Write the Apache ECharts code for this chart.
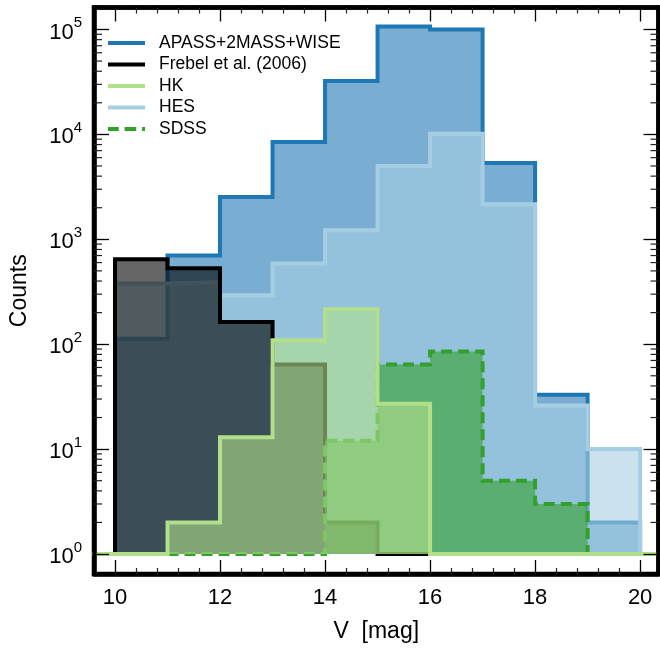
<!DOCTYPE html>
<html>
<head>
<meta charset="utf-8">
<script src="https://cdn.jsdelivr.net/npm/echarts@6/dist/echarts.min.js"></script>
<style>html,body{margin:0;padding:0;background:#fff}#c{width:660px;height:650px}</style>
</head>
<body>
<div id="c"></div>
<script>
// ---- data (counts per 1-mag bin) ----
const seriesNames = ['APASS+2MASS+WISE', 'Frebel et al. (2006)', 'HK', 'HES', 'SDSS'];
const apassStart = 10;
const apass = [113, 700, 2530, 8450, 32200, 106800, 100000, 5330, 33, 2];
const frebelStart = 10;
const frebel = [645, 530, 163, 64, 2, 1];
const hkStart = 10;
const hk = [0, 2, 13, 109, 215, 27, 0, 0, 0, 0];
const hesStart = 10;
const hes = [380, 390, 293, 587, 1220, 4990, 10150, 2155, 26, 10];
const sdssStart = 11;
const sdss = [0, 0, 0, 12, 64, 85, 5, 3];
const xTickLabels = [10, 12, 14, 16, 18, 20];

const X_MIN = 9.6, X_MAX = 20.35, Y_MIN = 0.645, Y_MAX = 162000, BASE = 1;
const FONT = 'Liberation Sans, Arial, sans-serif';

function stepPoints(start, vals, extendFrom, extendTo) {
  const pts = [];
  const s = extendFrom !== undefined ? extendFrom : start;
  pts.push([s, BASE]);
  vals.forEach((v, i) => pts.push([start + i, v > 0 ? v : BASE]));
  const end = start + vals.length;
  pts.push([extendTo !== undefined ? extendTo : end, BASE]);
  return pts;
}

function histSeries(name, color, pts, dashed, z) {
  return {
    name: name, type: 'line', step: 'end', data: pts, z: z,
    symbol: 'none', showSymbol: false, clip: true, silent: true,
    lineStyle: { color: color, width: 4, type: dashed ? [11, 6] : 'solid', join: 'miter', cap: 'butt' },
    itemStyle: { color: color },
    areaStyle: { color: color, opacity: 0.6, origin: BASE },
    emphasis: { disabled: true }
  };
}

// minor log ticks 2..9 x 10^k
const minorVals = [];
for (let k = 0; k <= 4; k++) for (let m = 2; m <= 9; m++) minorVals.push(m * Math.pow(10, k));

const chart = echarts.init(document.getElementById('c'), null, { renderer: 'canvas' });

function yLabel(v) {
  const e = Math.log10(v);
  if (Math.abs(e - Math.round(e)) > 1e-6) return '';
  return '{b|10}{s|' + Math.round(e) + '}';
}

const axisCommonX = {
  type: 'value', min: X_MIN, max: X_MAX, z: 10,
  axisLine: { show: true, lineStyle: { color: '#000', width: 4.5 } },
  axisTick: { show: true, inside: true, length: 14, lineStyle: { color: '#000', width: 1.3 } },
  minorTick: { show: true, splitNumber: 5, length: 6, lineStyle: { color: '#222', width: 1.2 } },
  splitLine: { show: false }, minorSplitLine: { show: false }
};
const axisCommonY = {
  type: 'log', logBase: 10, min: Y_MIN, max: Y_MAX, z: 10,
  axisLine: { show: true, lineStyle: { color: '#000', width: 4.5 } },
  axisTick: { show: true, inside: true, length: 15, lineStyle: { color: '#000', width: 1.3 } },
  minorTick: { show: false }, splitLine: { show: false }
};

const solidIcon = 'path://M0,0h38v4h-38z';
const dashIcon = 'path://M0,0h11v4h-11z M17,0h12v4h-12z M35,0h3v4h-3z';

chart.setOption({
  animation: false,
  backgroundColor: '#fff',
  grid: { left: 93, right: 1.5, top: 7.5, bottom: 76, show: true, borderColor: '#000', borderWidth: 4.5, backgroundColor: 'transparent' },
  legend: {
    orient: 'vertical', left: 103, top: 29, itemWidth: 37, itemHeight: 4, itemGap: 3.5,
    data: [
      { name: 'APASS+2MASS+WISE', icon: solidIcon },
      { name: 'Frebel et al. (2006)', icon: solidIcon },
      { name: 'HK', icon: solidIcon },
      { name: 'HES', icon: solidIcon },
      { name: 'SDSS', icon: dashIcon }
    ],
    textStyle: { fontFamily: FONT, fontSize: 17.5, lineHeight: 18, color: '#000', padding: [0, 0, 0, 9] },
    selectedMode: false
  },
  xAxis: [
    Object.assign({}, axisCommonX, {
      position: 'bottom',
      name: 'V  [mag]', nameLocation: 'middle', nameGap: 46,
      nameTextStyle: { fontFamily: FONT, fontSize: 23, color: '#000' },
      axisLabel: { show: true, margin: 13, fontFamily: FONT, fontSize: 22, color: '#000', showMinLabel: false, showMaxLabel: false,
        formatter: v => (xTickLabels.indexOf(Math.round(v * 1000) / 1000) >= 0 ? String(v) : '') }
    }),
    Object.assign({}, axisCommonX, { position: 'top', axisLabel: { show: false } })
  ],
  yAxis: [
    Object.assign({}, axisCommonY, {
      position: 'left',
      name: 'Counts', nameLocation: 'middle', nameGap: 63, nameRotate: 90,
      nameTextStyle: { fontFamily: FONT, fontSize: 23, color: '#000' },
      axisLabel: { show: true, margin: 12, showMinLabel: false, showMaxLabel: false, formatter: yLabel,
        rich: {
          b: { fontFamily: FONT, fontSize: 22, color: '#000', lineHeight: 28, verticalAlign: 'bottom' },
          s: { fontFamily: FONT, fontSize: 15, color: '#000', lineHeight: 28, verticalAlign: 'top' }
        } }
    }),
    Object.assign({}, axisCommonY, { position: 'right', axisLabel: { show: false } })
  ],
  series: [
    histSeries('APASS+2MASS+WISE', '#1f78b4', stepPoints(apassStart, apass), false, 2),
    histSeries('HES', '#a6cee3', stepPoints(hesStart, hes), false, 3),
    histSeries('Frebel et al. (2006)', '#000000', stepPoints(frebelStart, frebel), false, 4),
    histSeries('SDSS', '#33a02c', stepPoints(sdssStart, sdss), true, 5),
    histSeries('HK', '#b2df8a', stepPoints(hkStart, hk, X_MIN - 1, X_MAX + 1), false, 6),
    {
      type: 'custom', silent: true, z: 11, clip: false,
      data: minorVals.map(v => [X_MIN, v]),
      renderItem: function (params, api) {
        const v = api.value(1);
        const pl = api.coord([X_MIN, v]);
        const pr = api.coord([X_MAX, v]);
        const st = { stroke: '#222', lineWidth: 1.2 };
        return { type: 'group', children: [
          { type: 'line', shape: { x1: pl[0], y1: pl[1], x2: pl[0] + 8, y2: pl[1] }, style: st },
          { type: 'line', shape: { x1: pr[0] - 8, y1: pr[1], x2: pr[0], y2: pr[1] }, style: st }
        ] };
      }
    }
  ]
});
</script>
</body>
</html>
